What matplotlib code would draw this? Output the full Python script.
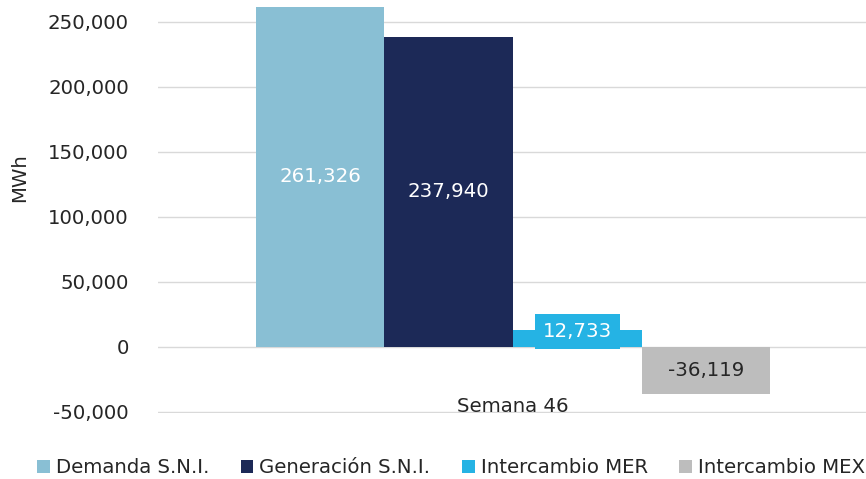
import matplotlib.pyplot as plt
from matplotlib.ticker import FuncFormatter

plt.rcParams['font.family'] = ['DejaVu Sans']

series = ['Demanda S.N.I.', 'Generación S.N.I.', 'Intercambio MER', 'Intercambio MEX']
values = [261326, 237940, 12733, -36119]
colors = ['#89BFD4', '#1C2957', '#25B3E4', '#BDBDBD']
label_colors = ['white', 'white', 'white', '#262626']
category = 'Semana 46'

fs = 14.2
fig = plt.figure(figsize=(8.66, 4.79), dpi=100)
ax = fig.add_axes([0.1824, 0.1378, 0.82, 0.8622])

w = 0.181
offsets = [-1.5 * w, -0.5 * w, 0.5 * w, 1.5 * w]
for name, v, c, lc, off in zip(series, values, colors, label_colors, offsets):
    ax.bar(off, v, width=w, color=c, label=name, zorder=2)
    txt = f'{v:,}'
    if name == 'Intercambio MER':
        ax.annotate(txt, (off, v / 2), xytext=(0, 5), textcoords='offset points',
                    ha='center', va='center', color=lc, fontsize=fs, zorder=3,
                    bbox=dict(boxstyle='square,pad=0.4', fc=c, ec='none'))
    else:
        ax.text(off, v / 2, txt, ha='center', va='center', color=lc, fontsize=fs, zorder=3)

ax.set_xlim(-0.5, 0.5)
ax.set_ylim(-51000, 266600)
ax.set_yticks(range(-50000, 250001, 50000))
ax.yaxis.set_major_formatter(FuncFormatter(lambda y, p: f'{int(y):,}'))
ax.set_xticks([])
ax.grid(axis='y', color='#D9D9D9', linewidth=1, zorder=0)
ax.tick_params(axis='y', length=0, pad=21, labelsize=fs, labelcolor='#262626')
for s in ax.spines.values():
    s.set_visible(False)
ax.text(0, -46000, category, ha='center', va='center', fontsize=fs, color='#262626', zorder=3)
fig.text(0.023, 0.63, 'MWh', rotation=90, ha='center', va='center', fontsize=fs, color='#262626')

fig.legend(loc='center left', bbox_to_anchor=(37 / 866, 0.023), ncol=4, frameon=False,
           fontsize=fs, handlelength=0.65, handleheight=0.65, handletextpad=0.3,
           columnspacing=1.6, borderpad=0, borderaxespad=0, labelcolor='#262626')

fig.savefig('out.png', dpi=100)
